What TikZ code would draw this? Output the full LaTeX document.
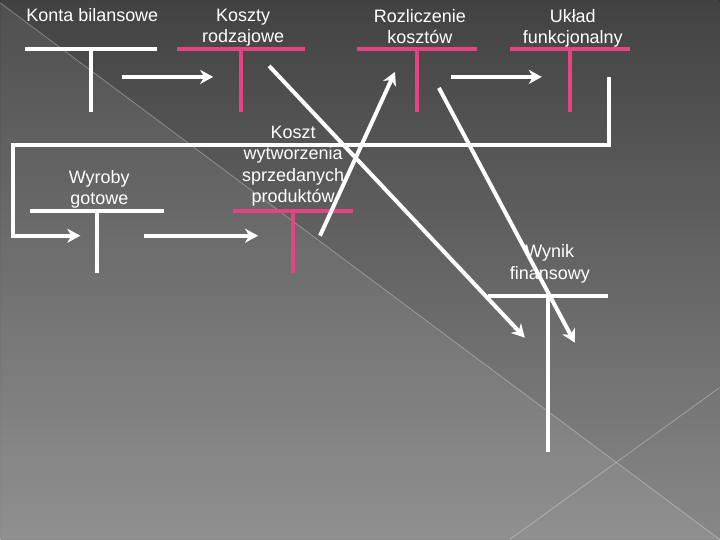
\documentclass[tikz,border=0pt]{standalone}
\usepackage{fontspec}
\setmainfont{Liberation Sans}
\usetikzlibrary{positioning, arrows.meta}

\definecolor{bgtop}{RGB}{66,66,66}
\definecolor{bgbottom}{RGB}{136,136,136}
\definecolor{accpink}{RGB}{228,68,130}

\begin{document}
\begin{tikzpicture}[x=1pt, y=-1pt,
    acctitle/.style={align=center, anchor=north, inner sep=0pt, text=white, font=\fontsize{18}{21.5}\selectfont},
    tbar/.style={line width=4pt, draw=white},
    pinkbar/.style={tbar, draw=accpink},
    arrow/.style={-{Stealth[length=13pt, width=14pt, inset=4pt]}, line width=4pt, draw=white},
    pics/tacc/.style 2 args={code={\draw[pic actions] (-#1,0) -- (#1,0) (0,0) -- (0,#2);}}
]

    % Background
    \fill[top color=bgtop, bottom color=bgbottom] (0,0) rectangle (720,540);
    \fill[white, opacity=0.07] (0,3) -- (720,540) -- (0,540) -- cycle;
    \draw[white, opacity=0.3, line width=0.8pt] (0,3) -- (720,540);
    \draw[white, opacity=0.3, line width=0.8pt] (510,540) -- (720,388);

    % Accounts, top row
    \node[acctitle] (konta) at (92,8.5) {Konta bilansowe};
    \node[acctitle] (rodzajowe) at (243,8.5) {Koszty\\rodzajowe};
    \node[acctitle] (rozliczenie) at (420,9) {Rozliczenie\\kosztów};
    \node[acctitle] (uklad) at (573,9) {Układ\\funkcjonalny};

    \coordinate (tKonta) at (91,49);
    \coordinate (tRodz) at (241,49);
    \coordinate (tRozl) at (417,49);
    \coordinate (tUklad) at (570,49);
    \pic[tbar] at (tKonta) {tacc={66}{63}};
    \pic[pinkbar] at (tRodz) {tacc={64}{63}};
    \pic[pinkbar] at (tRozl) {tacc={60}{63}};
    \pic[pinkbar] at (tUklad) {tacc={60}{63}};

    % Accounts, lower rows
    \node[acctitle] (wyroby) at (99,170) {Wyroby\\gotowe};
    \node[acctitle] (kwsp) at (293,126) {Koszt\\wytworzenia\\sprzedanych\\produktów};
    \node[acctitle] (wynik) at (550,245) {Wynik\\finansowy};

    \coordinate (tWyroby) at (97,211);
    \coordinate (tKwsp) at (293,211);
    \coordinate (tWynik) at (548,296);
    \pic[tbar] at (tWyroby) {tacc={67}{62}};
    \pic[pinkbar] at (tKwsp) {tacc={60}{62}};
    \pic[tbar] at (tWynik) {tacc={60}{156}};

    % Connector ends
    \coordinate (kontaOut) at (122,77);
    \coordinate (rodzIn) at (213,77);
    \coordinate (rodzOut) at (269,66);
    \coordinate (rozlIn) at (395,72);
    \coordinate (rozlOut) at (451,77);
    \coordinate (rozlDown) at (439,88);
    \coordinate (ukladIn) at (542,77);
    \coordinate (ukladOut) at (609,77);
    \coordinate (wyrobyIn) at (80,236);
    \coordinate (wyrobyOut) at (144,236);
    \coordinate (kwspIn) at (258,236);
    \coordinate (kwspOut) at (320,236);
    \coordinate (wynikL) at (525,338);
    \coordinate (wynikR) at (575,343);

    % Connectors
    \draw[arrow] (kontaOut) -- (rodzIn);
    \draw[arrow] (rozlOut) -- (ukladIn);
    \draw[arrow] (ukladOut) -- (609,145) -- (13,145) |- (wyrobyIn);
    \draw[arrow] (wyrobyOut) -- (kwspIn);
    \draw[arrow] (kwspOut) -- (rozlIn);
    \draw[arrow] (rodzOut) -- (wynikL);
    \draw[arrow] (rozlDown) -- (wynikR);

\end{tikzpicture}
\end{document}
